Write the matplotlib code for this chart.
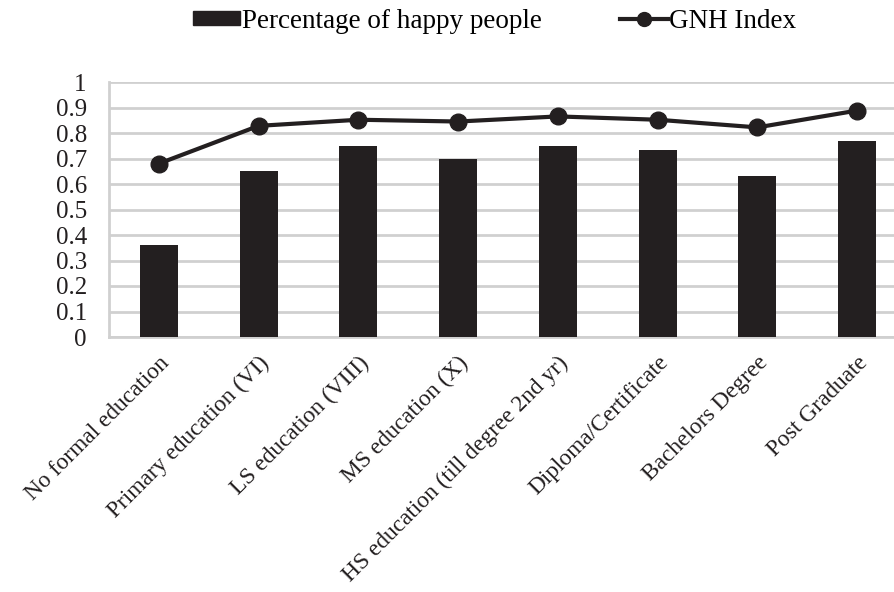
import matplotlib
matplotlib.use("Agg")
import matplotlib.pyplot as plt
from matplotlib.lines import Line2D
from matplotlib.patches import Patch

categories = ["No formal education", "Primary education (VI)", "LS education (VIII)",
              "MS education (X)", "HS education (till degree 2nd yr)", "Diploma/Certificate",
              "Bachelors Degree", "Post Graduate"]
happy_pct = [0.36, 0.65, 0.75, 0.70, 0.75, 0.735, 0.63, 0.77]
gnh_index = [0.68, 0.828, 0.852, 0.845, 0.865, 0.852, 0.822, 0.888]
yticks = [0, 0.1, 0.2, 0.3, 0.4, 0.5, 0.6, 0.7, 0.8, 0.9, 1]
ytick_labels = ["0", "0.1", "0.2", "0.3", "0.4", "0.5", "0.6", "0.7", "0.8", "0.9", "1"]

plt.rcParams['font.family'] = ['Liberation Serif', 'DejaVu Serif']
W, H = 895, 592
fig = plt.figure(figsize=(W / 100, H / 100), dpi=100)
left, right, top, bottom = 109, 907, 82, 337
ax = fig.add_axes([left / W, 1 - bottom / H, (right - left) / W, (bottom - top) / H])

dark = "#231f20"
x = list(range(len(categories)))
ax.bar(x, happy_pct, width=0.38, color=dark, zorder=3)
ax.plot(x, gnh_index, color=dark, lw=3, marker="o", ms=12, zorder=4)

ax.set_xlim(-0.5, len(categories) - 0.5)
ax.set_ylim(0, 1)
ax.set_yticks(yticks)
ax.set_yticklabels(ytick_labels, fontsize=18, color=dark)
ax.yaxis.grid(True, color="#d0d0d0", lw=2, zorder=0)
ax.set_axisbelow(True)
for s in ["top", "right"]:
    ax.spines[s].set_visible(False)
for s in ["left", "bottom"]:
    ax.spines[s].set_color("#d0d0d0")
    ax.spines[s].set_linewidth(2)
ax.tick_params(axis="y", length=0, pad=16)
ax.set_xticks(x)
ax.set_xticklabels(categories, rotation=45, ha="right", rotation_mode="anchor",
                   fontsize=16.8, color=dark)
ax.tick_params(axis="x", length=0, pad=11)

handles = [Patch(facecolor=dark, edgecolor=dark),
           Line2D([0], [0], color=dark, lw=3, marker="o", ms=10)]
fig.legend(handles, ["Percentage of happy people", "GNH Index"], loc="center",
           bbox_to_anchor=(0.5525, 1 - 21 / H), ncol=2, frameon=False, fontsize=19.5,
           handlelength=1.75, handleheight=0.45, handletextpad=0.05, columnspacing=2.9)

fig.savefig("out.png", dpi=100)
